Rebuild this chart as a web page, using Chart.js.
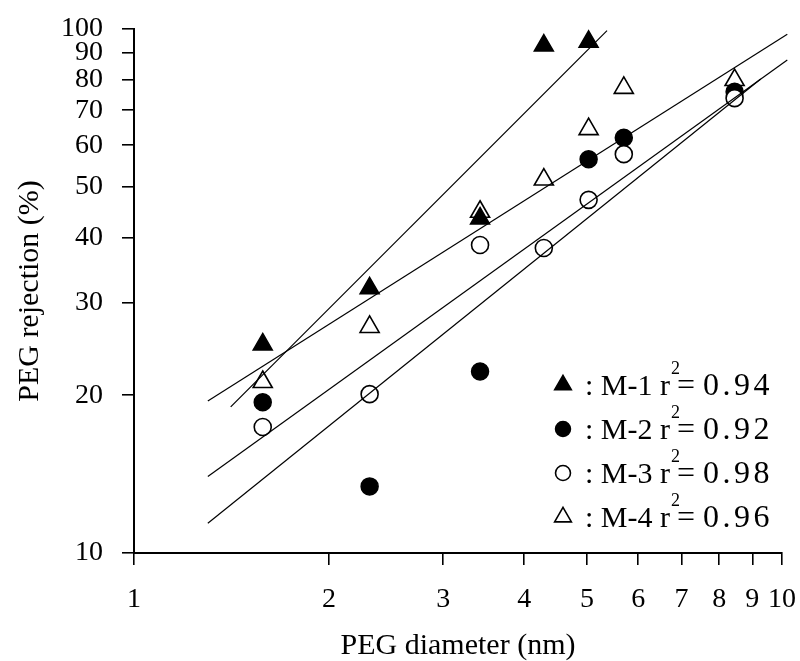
<!DOCTYPE html>
<html><head><meta charset="utf-8">
<script src="https://cdn.jsdelivr.net/npm/chart.js@4"></script>
<style>html,body{margin:0;padding:0;background:#fff}#wrap{width:800px;height:661px}</style>
</head><body><div id="wrap"><canvas id="c" width="800" height="661"></canvas></div>
<script>
// ---- data ----
const diameters   = [1.58, 2.31, 3.42, 4.29, 5.03, 5.70, 8.45];
const m1Rejection = [25.0, 32.0, 43.5, 93.0, 94.5, null, null];
const m2Rejection = [19.4, 13.4, 22.2, null, 56.4, 62.0, 75.9];
const m3Rejection = [17.4, 20.1, 38.7, 38.2, 47.2, 57.7, 73.8];
const m4Rejection = [21.2, 27.0, 44.8, 51.6, 64.4, 77.2, 79.9];

// regression lines (end points)
const fitM1X = [1.41, 5.37],  fitM1Y = [19.0, 99.3];
const fitM4X = [1.30, 10.19], fitM4Y = [19.5, 97.7];
const fitM2X = [1.30, 10.19], fitM2Y = [14.0, 87.3];
const fitM3X = [1.30, 9.27],  fitM3Y = [11.4, 80.3];

const xTickValues = [1, 2, 3, 4, 5, 6, 7, 8, 9, 10];
const yTickValues = [10, 20, 30, 40, 50, 60, 70, 80, 90, 100];
const seriesNames = ['M-1', 'M-2', 'M-3', 'M-4'];
const r2Values    = ['0.94', '0.92', '0.98', '0.96'];

const FONT = '"Liberation Serif", "Times New Roman", serif';

function toPoints(xs, ys) {
  const out = [];
  xs.forEach((x, i) => { if (ys[i] !== null && ys[i] !== undefined) out.push({x: x, y: ys[i]}); });
  return out;
}

const markerStyles = [
  {pointStyle: 'triangle', radius: 11, bg: '#000', border: '#000', bw: 1.5},
  {pointStyle: 'circle',   radius: 8.5, bg: '#000', border: '#000', bw: 1.5},
  {pointStyle: 'circle',   radius: 8.5, bg: '#fff', border: '#000', bw: 1.6},
  {pointStyle: 'triangle', radius: 11, bg: '#fff', border: '#000', bw: 1.6}
];
const seriesValues = [m1Rejection, m2Rejection, m3Rejection, m4Rejection];
const markerOrder = [1, 3, 2, 4];

const scatterSets = seriesValues.map((vals, i) => ({
  type: 'scatter',
  label: seriesNames[i],
  data: toPoints(diameters, vals),
  pointStyle: markerStyles[i].pointStyle,
  pointRadius: markerStyles[i].radius,
  pointHoverRadius: markerStyles[i].radius,
  backgroundColor: markerStyles[i].bg,
  borderColor: markerStyles[i].border,
  pointBorderWidth: markerStyles[i].bw,
  showLine: false,
  order: markerOrder[i]
}));

const fits = [[fitM1X, fitM1Y], [fitM4X, fitM4Y], [fitM2X, fitM2Y], [fitM3X, fitM3Y]];
const lineSets = fits.map((f, i) => ({
  type: 'line',
  label: 'fit' + i,
  data: toPoints(f[0], f[1]),
  borderColor: '#000',
  borderWidth: 1.2,
  pointRadius: 0,
  fill: false,
  tension: 0,
  clip: false,
  order: 0
}));

const whiteBg = {
  id: 'whiteBg',
  beforeDraw(chart) {
    const ctx = chart.ctx;
    ctx.save(); ctx.fillStyle = '#fff'; ctx.fillRect(0, 0, chart.width, chart.height); ctx.restore();
  }
};

function spacedText(ctx, str, x, y, spacing) {
  for (const ch of str) {
    ctx.fillText(ch, x, y);
    x += ctx.measureText(ch).width + spacing;
  }
  return x;
}

const legendPlugin = {
  id: 'customLegend',
  afterDraw(chart) {
    const ctx = chart.ctx;
    const rows = [385, 429, 473, 517];
    const markerX = 563, textX = 585;
    ctx.save();
    rows.forEach((y, i) => {
      const s = markerStyles[i];
      ctx.fillStyle = s.bg; ctx.strokeStyle = s.border; ctx.lineWidth = s.bw;
      Chart.helpers.drawPoint(ctx, {pointStyle: s.pointStyle, radius: s.radius * 0.88, rotation: 0, borderWidth: s.bw}, markerX, y);
      ctx.fillStyle = '#000';
      ctx.textBaseline = 'alphabetic';
      ctx.textAlign = 'left';
      ctx.font = '30px ' + FONT;
      const base = y + 10;
      const t1 = ': ' + seriesNames[i] + ' r';
      ctx.fillText(t1, textX, base);
      let x = textX + ctx.measureText(t1).width;
      ctx.font = '18px ' + FONT;
      ctx.fillText('2', x + 1, base - 21);
      x += 7;
      ctx.font = '32px ' + FONT;
      x = spacedText(ctx, '=', x, base, 0);
      x += 8;
      spacedText(ctx, r2Values[i], x, base, 3.5);
    });
    ctx.restore();
  }
};

new Chart(document.getElementById('c'), {
  data: { datasets: [...lineSets, ...scatterSets] },
  options: {
    responsive: false,
    devicePixelRatio: 1,
    animation: false,
    layout: { padding: { top: 29, right: 18, left: 0, bottom: 0 } },
    plugins: { legend: { display: false }, tooltip: { enabled: false } },
    scales: {
      x: {
        type: 'logarithmic', position: 'bottom', min: 1, max: 10,
        afterBuildTicks: s => { s.ticks = xTickValues.map(v => ({value: v})); },
        afterFit: s => { s.height = 108; s.paddingLeft = 0; s.paddingRight = 0; },
        ticks: { autoSkip: false, maxRotation: 0, color: '#000', padding: 18,
                 font: { family: FONT, size: 28 }, callback: v => String(v) },
        grid: { display: true, drawOnChartArea: false, drawTicks: true, tickLength: 12, color: '#000', lineWidth: 1.6 },
        border: { display: true, color: '#000', width: 2 },
        title: { display: true, text: 'PEG diameter (nm)', color: '#000',
                 font: { family: FONT, size: 30, lineHeight: 1 }, padding: { top: 0, bottom: 0 } }
      },
      y: {
        type: 'logarithmic', position: 'left', min: 10, max: 100,
        afterBuildTicks: s => { s.ticks = yTickValues.map(v => ({value: v})); },
        afterFit: s => { s.width = 134; s.paddingTop = 0; s.paddingBottom = 0; },
        ticks: { autoSkip: false, color: '#000', padding: 19,
                 font: { family: FONT, size: 28 }, callback: v => String(v) },
        grid: { display: true, drawOnChartArea: false, drawTicks: true, tickLength: 12, color: '#000', lineWidth: 1.6 },
        border: { display: true, color: '#000', width: 2 },
        title: { display: true, text: 'PEG rejection (%)', color: '#000',
                 font: { family: FONT, size: 30, lineHeight: 1.2 }, padding: { top: 12, bottom: 0 } }
      }
    }
  },
  plugins: [whiteBg, legendPlugin]
});
</script></body></html>
